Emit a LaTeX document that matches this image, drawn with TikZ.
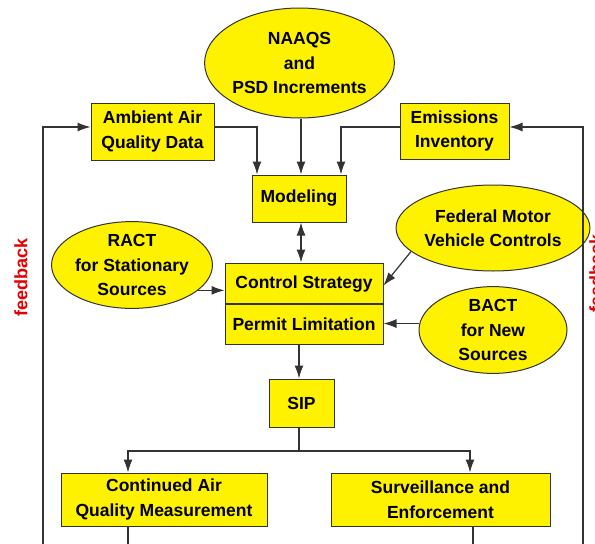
\documentclass[tikz,border=0pt]{standalone}
\usepackage{fontspec}
\setmainfont{Liberation Sans}
\usetikzlibrary{shapes.geometric,arrows.meta,calc}
\begin{document}
\begin{tikzpicture}[x=1pt,y=-1pt,
  lbl/.style={font=\bfseries\fontsize{17.5}{24.5}\selectfont, align=center, text=black},
  box/.style={lbl, rectangle, draw=black!80, line width=1pt, fill=yellow, inner sep=0pt},
  oval/.style={lbl, ellipse, draw=black!80, line width=1pt, fill=yellow, inner sep=0pt},
  wire/.style={draw=black!80, line width=1.2pt},
  arr/.style={wire, -{Latex[length=13pt,width=9pt]}},
  dblarr/.style={wire, {Latex[length=13pt,width=9pt]}-{Latex[length=13pt,width=9pt]}},
  fb/.style={font=\bfseries\fontsize{18}{20}\selectfont, text=red!90!black, rotate=90, inner sep=0pt}]
\useasboundingbox (0,0) rectangle (595,544);

% nodes
\node[oval, minimum width=175pt, minimum height=110pt] (naaqs) at (299.5,63) {NAAQS\\and\\PSD Increments};
\node[box, minimum width=123pt, minimum height=57pt] (amb) at (152.5,131.5) {Ambient Air\\Quality Data};
\node[box, minimum width=109pt, minimum height=56pt] (emi) at (454.5,131) {Emissions\\Inventory};
\node[box, minimum width=94pt, minimum height=47pt] (mod) at (299,198.5) {Modeling};
\node[oval, minimum width=150pt, minimum height=84pt] (ract) at (132,265) {RACT\\for Stationary\\Sources};
\node[oval, minimum width=156pt, minimum height=86pt] (fed) at (493,228) {Federal Motor\\Vehicle Controls};
\node[oval, minimum width=148pt, minimum height=76pt] (bact) at (493,330) {BACT\\for New\\Sources};
\node[box, minimum width=158pt, minimum height=81pt] (ctrl) at (304,303.5) {};
\node[lbl] (cs) at (304,284) {Control Strategy};
\node[lbl] (pl) at (304,324) {Permit Limitation};
\node[box, minimum width=65pt, minimum height=48pt] (sip) at (301.5,403) {SIP};
\node[box, minimum width=206pt, minimum height=53pt] (cont) at (164,499.5) {Continued Air\\Quality Measurement};
\node[box, minimum width=219pt, minimum height=53pt] (surv) at (440.5,499.5) {Surveillance and\\Enforcement};
\node[fb] (fbl) at (21,277) {feedback};
\node[fb] (fbr) at (596,273) {feedback};

% helper coordinates
\coordinate (dv) at (0,304);
\coordinate (a1) at (257,127);
\coordinate (a2) at (341,127);
\coordinate (cx) at (301,0);
\coordinate (sx) at (299,0);
\coordinate (j) at (299,451);
\coordinate (jl) at (128,451);
\coordinate (jr) at (470,451);
\coordinate (fl0) at (43,544);
\coordinate (fl1) at (43,127);
\coordinate (fr0) at (583,544);
\coordinate (fr1) at (583,127);
\coordinate (cb) at (128,544);
\coordinate (sb) at (473,544);
\coordinate (fz) at ($(ctrl.north east)+(0,23)$);

% divider
\draw[wire] (ctrl.west |- dv) -- (ctrl.east |- dv);

% connectors
\draw[arr] (amb.east |- a1) -- (a1) -- (mod.north -| a1);
\draw[arr] (naaqs.south -| cx) -- (mod.north -| cx);
\draw[arr] (emi.west |- a2) -- (a2) -- (mod.north -| a2);
\draw[dblarr] (mod.south -| cx) -- (ctrl.north -| cx);
\draw[arr] (ract.-21) -- (ctrl.west |- ract.-21);
\draw[arr] (fed.196) -- (fz);
\draw[arr] (bact.175) -- (ctrl.east |- bact.175);
\draw[arr] (ctrl.south -| sx) -- (sip.north -| sx);
\draw[wire] (sip.south -| j) -- (j);
\draw[arr] (j) -- (jl) -- (cont.north -| jl);
\draw[arr] (j) -- (jr) -- (surv.north -| jr);
\draw[wire] (cont.south -| cb) -- (cb);
\draw[wire] (surv.south -| sb) -- (sb);
\draw[arr] (fl0) -- (fl1) -- (amb.west |- fl1);
\draw[arr] (fr0) -- (fr1) -- (emi.east |- fr1);
\end{tikzpicture}
\end{document}
